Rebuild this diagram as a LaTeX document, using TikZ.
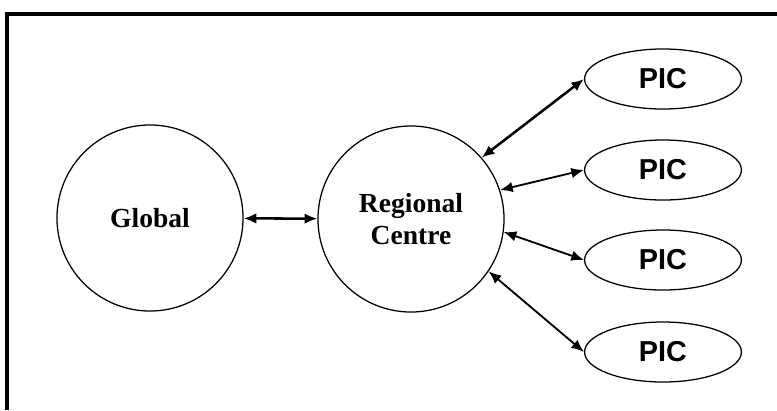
\documentclass[tikz,border=0pt]{standalone}
\usepackage{fontspec}
\setmainfont{Liberation Serif}
\newfontfamily\picfont{Liberation Sans}
\usetikzlibrary{shapes.geometric,arrows.meta}

\tikzset{
	hub/.style={draw,circle,line width=0.9pt,minimum size=4.65cm,inner sep=0pt,align=center,
		font=\fontsize{19.6pt}{22.8pt}\selectfont\bfseries},
	pic/.style={draw,ellipse,line width=0.9pt,minimum width=3.92cm,minimum height=1.5cm,inner sep=0pt,
		font=\picfont\fontsize{20.5pt}{24pt}\selectfont\bfseries},
	link/.style={{Latex[length=9pt,width=7.5pt]}-{Latex[length=9pt,width=7.5pt]},line width=1.3pt}
}

\begin{document}
\begin{tikzpicture}[x=0.025cm,y=-0.025cm]
		\useasboundingbox (0,0) rectangle (777,410);
		\draw[line width=2.2pt] (7,410)--(7,14)--(777,14);
		\node (global) [hub] at (150,218) {Global};
		\node (regional) [hub] at (411,219) {Regional\\Centre};
		\node (pic1) [pic] at (663,79) {PIC};
		\node (pic2) [pic] at (663,170) {PIC};
		\node (pic3) [pic] at (663,260) {PIC};
		\node (pic4) [pic] at (663,352) {PIC};
		\draw[link,line width=1.8pt] (global)--(regional);
		\draw[link,line width=1.8pt] (regional.41)--(pic1.west);
		\draw[link] (regional.18)--(pic2.west);
		\draw[link] (regional.-8)--(pic3.west);
		\draw[link] (regional.-34)--(pic4.west);
	\end{tikzpicture}
\end{document}
